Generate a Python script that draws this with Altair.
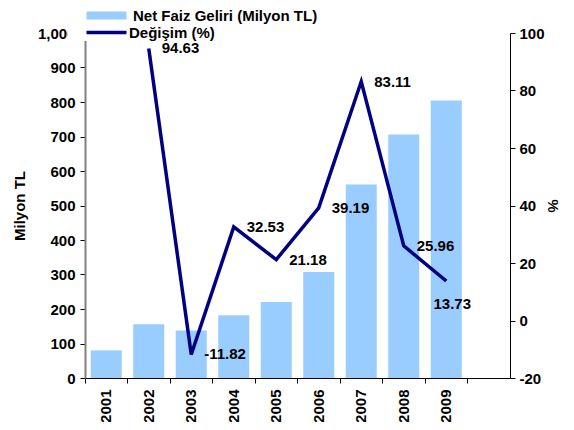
import altair as alt
import pandas as pd

years = ["2001", "2002", "2003", "2004", "2005", "2006", "2007", "2008", "2009"]
income = [80, 156, 138, 182, 220, 307, 561, 706, 804]
change_years = ["2002", "2003", "2004", "2005", "2006", "2007", "2008", "2009"]
change = [94.63, -11.82, 32.53, 21.18, 39.19, 83.11, 25.96, 13.73]
left_ticks = [0, 100, 200, 300, 400, 500, 600, 700, 800, 900, 1000]
right_ticks = [-20, 0, 20, 40, 60, 80, 100]
bar_name = "Net Faiz Geliri (Milyon TL)"
line_name = "Değişim (%)"

slots = years + [" "]
bar_df = pd.DataFrame({"year": years, "value": income, "series": bar_name})
line_df = pd.DataFrame({"year": change_years, "pct": change, "series": line_name})

FONT = "Liberation Sans"
BAR_COLOR = "#99ccff"
LINE_COLOR = "#000080"
MINUS_FIX = "replace(datum.label, '\u2212', '-')"

x_enc = alt.X(
    "year:N",
    scale=alt.Scale(domain=slots, paddingInner=0, paddingOuter=0),
    axis=alt.Axis(
        title=None, labelAngle=270, bandPosition=0, labelFont=FONT, labelFontSize=15,
        labelFontWeight="bold", labelColor="black", domainColor="black", tickColor="black",
        tickSize=5, labelPadding=6, grid=False,
    ),
)

bars = alt.Chart(bar_df).mark_bar(width=alt.RelativeBandSize(0.73)).encode(
    x=x_enc,
    y=alt.Y(
        "value:Q",
        scale=alt.Scale(domain=[0, 1000], nice=False),
        axis=alt.Axis(
            values=left_ticks, format=",d", title="Milyon TL", titleFont=FONT, titleFontSize=15,
            titleFontWeight="bold", titleColor="black", titlePadding=10, labelFont=FONT,
            labelFontSize=15, labelFontWeight="bold", labelColor="black", domainColor="#808080",
            domainWidth=2, tickColor="black", tickSize=5, labelPadding=5, grid=False,
        ),
    ),
    fill=alt.Fill(
        "series:N",
        scale=alt.Scale(domain=[bar_name], range=[BAR_COLOR]),
        legend=alt.Legend(
            title=None, orient="none", legendX=-17, legendY=-25, fillColor="white", padding=0,
            symbolType="M-4,-0.8H4V0.8H-4Z", symbolSize=100, symbolStrokeWidth=0,
            symbolOffset=31, labelOffset=19, labelLimit=0, labelFont=FONT, labelFontSize=15,
            labelFontWeight="bold", labelColor="black", zindex=2,
        ),
    ),
)

y_pct = alt.Y(
    "pct:Q",
    scale=alt.Scale(domain=[-20, 100], nice=False),
    axis=alt.Axis(
        orient="right", values=right_ticks, labelExpr=MINUS_FIX, title="%", titleFont=FONT,
        titleFontSize=15, titleFontWeight="bold", titleColor="black", titlePadding=0,
        labelFont=FONT, labelFontSize=15, labelFontWeight="bold", labelColor="black",
        domainColor="black", tickColor="black", tickSize=5, labelPadding=4, grid=False,
    ),
)

line = alt.Chart(line_df).mark_line(strokeWidth=3.5, strokeJoin="miter").encode(
    x=alt.X("year:N"),
    y=y_pct,
    stroke=alt.Stroke(
        "series:N",
        scale=alt.Scale(domain=[line_name], range=[LINE_COLOR]),
        legend=alt.Legend(
            title=None, orient="none", legendX=-17, legendY=-8, fillColor="white", padding=0,
            symbolType="M-4,0H4", symbolSize=100, symbolStrokeWidth=3.5, symbolFillColor="transparent",
            symbolOffset=31, labelOffset=15, labelLimit=0, labelFont=FONT, labelFontSize=15,
            labelFontWeight="bold", labelColor="black", zindex=2,
        ),
    ),
)

text_base = alt.Chart(line_df).transform_calculate(
    label="replace(format(datum.pct, '.2f'), '\u2212', '-')"
).encode(
    x=alt.X("year:N"),
    y=alt.Y("pct:Q"),
    text=alt.Text("label:N"),
)
text_style = dict(font=FONT, fontSize=15, fontWeight="bold", color="black")

labels_right = text_base.mark_text(align="left", baseline="middle", dx=13, dy=0, **text_style).transform_filter(
    "datum.year != '2009'"
)
label_below = text_base.mark_text(align="center", baseline="middle", dx=6, dy=23, **text_style).transform_filter(
    "datum.year == '2009'"
)

right_layer = alt.layer(line, labels_right, label_below)

chart = (
    alt.layer(bars, right_layer)
    .resolve_scale(y="independent")
    .properties(
        width=425,
        height=345,
        autosize=alt.AutoSizeParams(type="none"),
        padding={"left": 77, "top": 25, "right": 56, "bottom": 44},
        background="white",
    )
    .configure_view(strokeWidth=0)
)

chart.save("out.html", embed_options={"renderer": "svg", "actions": False})
